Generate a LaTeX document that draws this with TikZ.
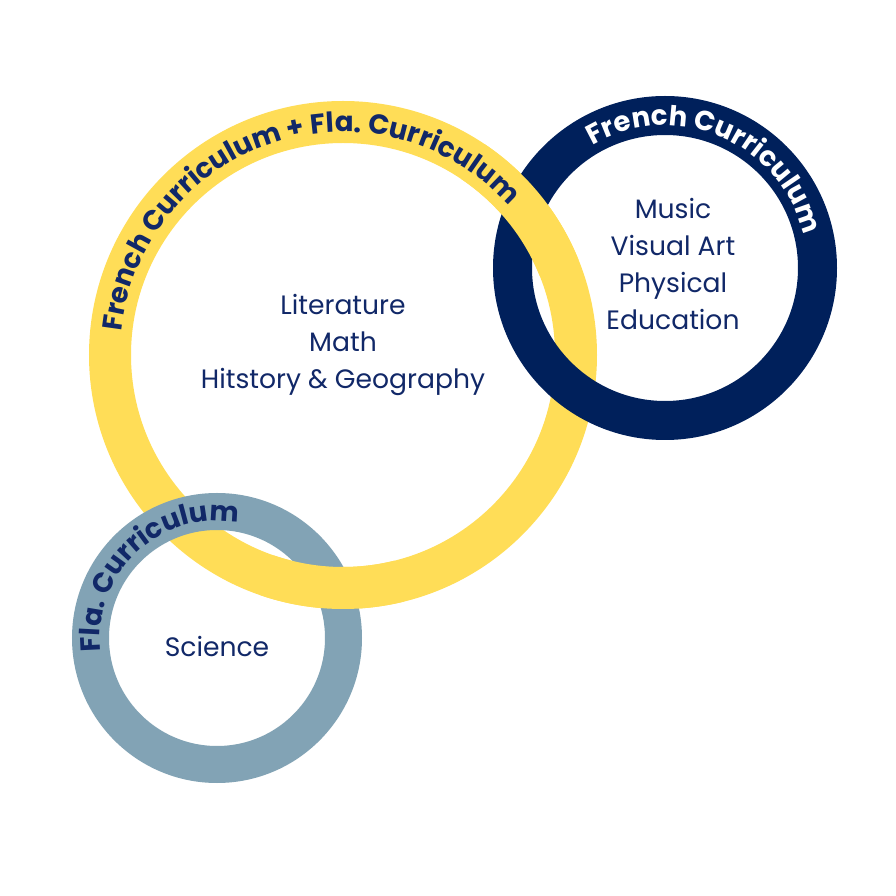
\documentclass[tikz,border=0pt]{standalone}
\usepackage{fontspec}
\setmainfont{Poppins}
\usetikzlibrary{decorations.text}
\definecolor{ringyellow}{HTML}{FFDD57}
\definecolor{ringnavy}{HTML}{00205B}
\definecolor{ringgray}{HTML}{82A3B5}
\definecolor{textnavy}{HTML}{112868}
\newcommand\ringfont{\bfseries\fontsize{13.8pt}{15pt}\selectfont}
\begin{document}
\begin{tikzpicture}[x=0.5pt,y=0.5pt,
  yring/.style={draw=ringyellow,line width=21pt},
  nring/.style={draw=ringnavy,line width=19.5pt},
  gring/.style={draw=ringgray,line width=18.5pt},
  ringtext/.style={decorate,decoration={text along path,text align=center,text color=#1}},
  inner/.style={text=textnavy,align=center,font=\fontsize{13.3pt}{18.5pt}\selectfont}]
\useasboundingbox (0,0) rectangle (896,896);
\fill[white] (0,0) rectangle (896,896);
\coordinate (Y) at (343,541);
\coordinate (N) at (665,628);
\coordinate (G) at (217,258);
% rings
\draw[yring] (Y) circle[radius=233];
\draw[gring] (G) circle[radius=126.5];
\draw[nring] (N) circle[radius=152.5];
% yellow over navy (top) and over gray (right)
\draw[yring] (Y) ++(22:233) arc[start angle=22,end angle=56,radius=233];
\draw[yring] (Y) ++(251:233) arc[start angle=251,end angle=284,radius=233];
% ring labels
\path[ringtext=textnavy,decoration={text={|\ringfont|French Curriculum + Fla. Curriculum}}]
  (Y) ++(198:223) arc[start angle=198,end angle=18,radius=223];
\path[ringtext=white,decoration={text={|\ringfont|French Curriculum}}]
  (N) ++(157:142.5) arc[start angle=157,end angle=-23,radius=142.5];
\path[ringtext=textnavy,decoration={text={|\ringfont|Fla. Curriculum}}]
  (G) ++(223:117) arc[start angle=223,end angle=43,radius=117];
% inner texts
\node[inner] (core) at (343,551) {Literature\\Math\\Hitstory \& Geography};
\node[inner] (fr) at (673,632) {Music\\Visual Art\\Physical\\Education};
\node[inner] (sci) at (217,250) {Science};
\end{tikzpicture}
\end{document}
